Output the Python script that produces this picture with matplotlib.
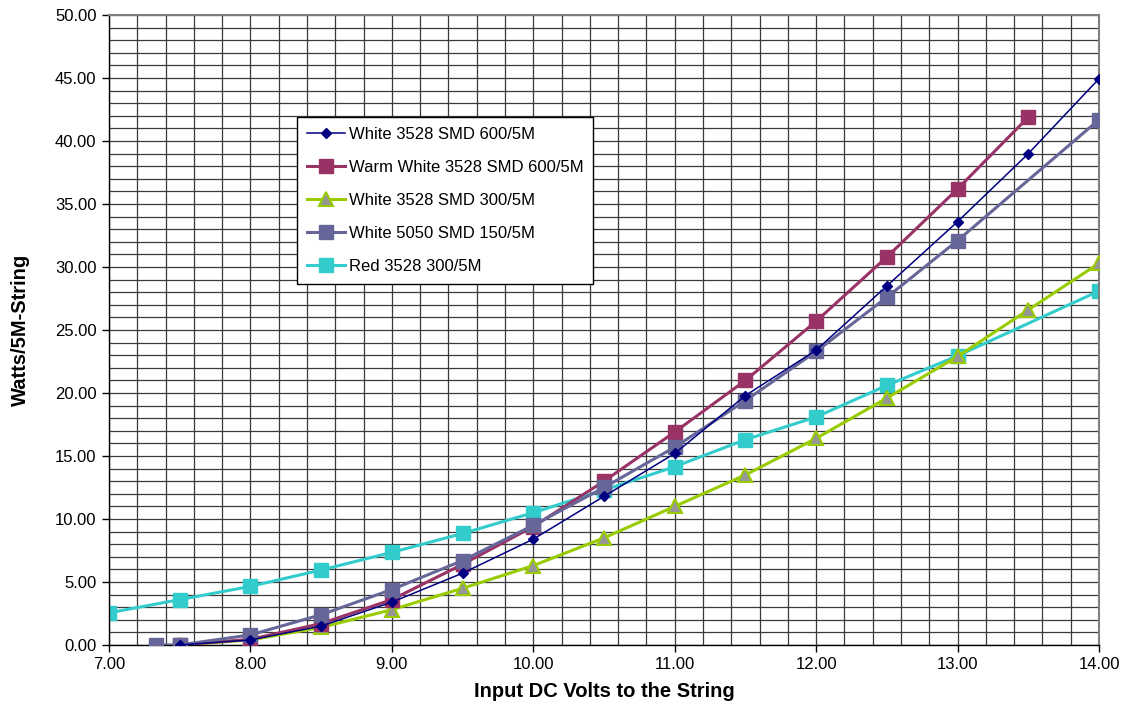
import numpy as np
import matplotlib
matplotlib.use('Agg')
import matplotlib.pyplot as plt
from matplotlib.ticker import MultipleLocator, FormatStrFormatter

plt.rcParams['font.family'] = ['Liberation Sans', 'DejaVu Sans']

# ── data ──
v_w600 = [7.5, 8.0, 8.5, 9.0, 9.5, 10.0, 10.5, 11.0, 11.5, 12.0, 12.5, 13.0, 13.5, 14.0]
w_w600 = [0.0, 0.4, 1.5, 3.4, 5.7, 8.4, 11.8, 15.2, 19.8, 23.4, 28.5, 33.6, 39.0, 44.95]

v_ww600 = [7.5, 8.0, 8.5, 9.0, 9.5, 10.0, 10.5, 11.0, 11.5, 12.0, 12.5, 13.0, 13.5]
w_ww600 = [0.0, 0.45, 1.7, 3.6, 6.4, 9.4, 13.0, 16.9, 21.0, 25.7, 30.8, 36.2, 41.9]

v_w300 = [7.5, 8.0, 8.5, 9.0, 9.5, 10.0, 10.5, 11.0, 11.5, 12.0, 12.5, 13.0, 13.5, 14.0]
w_w300 = [0.0, 0.4, 1.4, 2.8, 4.5, 6.3, 8.5, 11.0, 13.5, 16.4, 19.6, 22.9, 26.6, 30.3]

v_w5050 = [7.33, 7.5, 8.0, 8.5, 9.0, 9.5, 10.0, 10.5, 11.0, 11.5, 12.0, 12.5, 13.0, 14.0]
w_w5050 = [0.0, 0.0, 0.8, 2.4, 4.4, 6.7, 9.5, 12.5, 15.7, 19.4, 23.3, 27.6, 32.1, 41.7]

v_red = [7.0, 7.5, 8.0, 8.5, 9.0, 9.5, 10.0, 10.5, 11.0, 11.5, 12.0, 12.5, 13.0, 14.0]
w_red = [2.55, 3.6, 4.65, 5.95, 7.35, 8.85, 10.5, 12.3, 14.15, 16.3, 18.1, 20.6, 22.95, 28.1]

labels = ['White 3528 SMD 600/5M', 'Warm White 3528 SMD 600/5M',
          'White 3528 SMD 300/5M', 'White 5050 SMD 150/5M', 'Red 3528 300/5M']

LW = 2.2

fig = plt.figure(figsize=(11.27, 7.09), dpi=100)
ax = fig.add_axes([0.0967, 0.0903, 0.8785, 0.8885])

ax.plot(v_w600, w_w600, color='#000080', lw=1.1, marker='D', ms=5.5,
        mfc='#000080', mec='#000080', zorder=6, label=labels[0])
ax.plot(v_ww600, w_ww600, color='#993366', lw=LW, marker='s', ms=9.5,
        mfc='#993366', mec='#993366', zorder=4, label=labels[1])
ax.plot(v_w300, w_w300, color='#99CC00', lw=LW, marker='^', ms=10,
        mfc='#969696', mec='#99CC00', mew=1.5, zorder=3, label=labels[2])
ax.plot(v_w5050, w_w5050, color='#666699', lw=LW, marker='s', ms=9.5,
        mfc='#666699', mec='#666699', zorder=5, label=labels[3])
ax.plot(v_red, w_red, color='#33CCCC', lw=LW, marker='s', ms=9.5,
        mfc='#33CCCC', mec='#33CCCC', zorder=2, label=labels[4])

ax.set_xlim(7, 14)
ax.set_ylim(0, 50)
ax.xaxis.set_major_locator(MultipleLocator(1))
ax.xaxis.set_minor_locator(MultipleLocator(0.2))
ax.yaxis.set_major_locator(MultipleLocator(5))
ax.yaxis.set_minor_locator(MultipleLocator(1))
ax.xaxis.set_major_formatter(FormatStrFormatter('%.2f'))
ax.yaxis.set_major_formatter(FormatStrFormatter('%.2f'))
ax.grid(which='both', color='#3a3a3a', lw=0.9, zorder=0)
ax.set_axisbelow(True)
ax.tick_params(which='major', direction='out', length=5, width=1, labelsize=12, pad=4)
ax.tick_params(which='minor', length=0)
for s in ['top', 'right']:
    ax.spines[s].set_color('#808080')
    ax.spines[s].set_linewidth(1.5)
for s in ['left', 'bottom']:
    ax.spines[s].set_color('black')
    ax.spines[s].set_linewidth(1)

ax.set_xlabel('Input DC Volts to the String', fontsize=14.5, fontweight='bold', labelpad=7)
ax.set_ylabel('Watts/5M-String', fontsize=14.5, fontweight='bold')
ax.yaxis.set_label_coords(-0.08, 0.5)

leg = ax.legend(loc='upper left', bbox_to_anchor=(0.19, 0.838), fontsize=12,
                frameon=True, fancybox=False, edgecolor='black', framealpha=1,
                borderpad=0.6, labelspacing=1.08, handlelength=2.3,
                handletextpad=0.2, borderaxespad=0)
leg.get_frame().set_linewidth(1)
leg.set_zorder(10)

fig.savefig('out.png', dpi=100, facecolor='white')
